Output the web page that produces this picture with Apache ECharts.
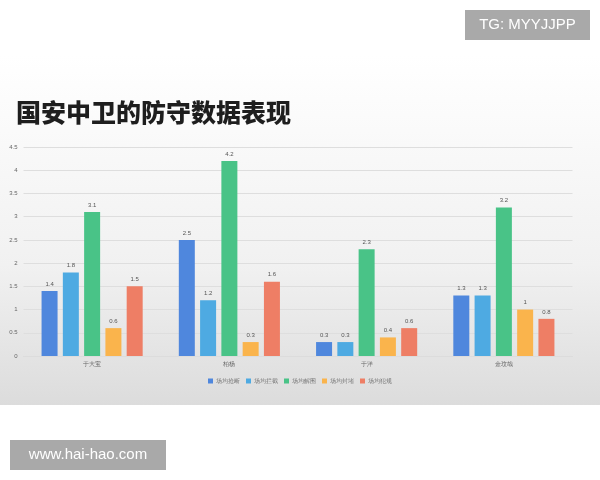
<!DOCTYPE html>
<html><head><meta charset="utf-8">
<script src="https://cdn.jsdelivr.net/npm/echarts@6/dist/echarts.min.js"></script>
<style>html,body{margin:0;padding:0;background:#fff}#c{width:600px;height:480px}</style>
</head><body><div id="c"></div>
<script>
const categories = ['于大宝', '柏杨', '于洋', '金玟哉'];
const seriesNames = ['场均抢断', '场均拦截', '场均解围', '场均封堵', '场均犯规'];
const steals = [1.4, 2.5, 0.3, 1.3];
const intercepts = [1.8, 1.2, 0.3, 1.3];
const clearances = [3.1, 4.2, 2.3, 3.2];
const blocks = [0.6, 0.3, 0.4, 1];
const fouls = [1.5, 1.6, 0.6, 0.8];
const seriesData = [steals, intercepts, clearances, blocks, fouls];
const colors = ['#4f87dd', '#4eaae2', '#49c387', '#fab44c', '#ee7e65'];

const chart = echarts.init(document.getElementById('c'));
chart.setOption({
  animation: false,
  color: colors,
  graphic: [
    {type: 'rect', z: -10, shape: {x: 0, y: 55, width: 600, height: 350},
     style: {fill: new echarts.graphic.LinearGradient(0, 0, 0, 1, [
       {offset: 0, color: '#ffffff'}, {offset: 0.6, color: '#f1f1f1'}, {offset: 1, color: '#dcdcdc'}])}},
    {type: 'rect', shape: {x: 465, y: 10, width: 125, height: 30}, style: {fill: '#a9a9a9'}},
    {type: 'text', x: 527.5, y: 25, style: {text: 'TG: MYYJJPP', fill: '#fff', align: 'center', verticalAlign: 'middle', font: '15px "Liberation Sans", Arial, sans-serif'}},
    {type: 'rect', shape: {x: 10, y: 440, width: 156, height: 30}, style: {fill: '#a9a9a9'}},
    {type: 'text', x: 88, y: 455, style: {text: 'www.hai-hao.com', fill: '#fff', align: 'center', verticalAlign: 'middle', font: '15px "Liberation Sans", Arial, sans-serif'}}
  ],
  title: {
    text: '国安中卫的防守数据表现', left: 11, top: 95,
    textStyle: {fontSize: 25, fontWeight: 900, color: '#1e1e1e', fontFamily: '"Noto Sans CJK SC", sans-serif'}
  },
  legend: {
    data: seriesNames, top: 373, left: 'center', itemWidth: 5, itemHeight: 5, itemGap: 6, icon: 'rect',
    textStyle: {fontSize: 6, color: '#777', padding: [0, 0, 0, -2]}
  },
  grid: {left: 23.5, right: 27.5, top: 147, bottom: 124},
  xAxis: {
    type: 'category', data: categories,
    axisLine: {show: true, lineStyle: {color: '#dcdcdc'}}, axisTick: {show: false},
    axisLabel: {fontSize: 6, color: '#666', margin: 5}
  },
  yAxis: {
    type: 'value', min: 0, max: 4.5, interval: 0.5,
    axisLine: {show: false}, axisTick: {show: false},
    splitLine: {lineStyle: {color: '#dedede'}},
    axisLabel: {fontSize: 6, color: '#666', margin: 6}
  },
  series: seriesNames.map((n, i) => ({
    name: n, type: 'bar', data: seriesData[i], barWidth: 16, barGap: '33%',
    label: {show: true, position: 'top', fontSize: 6, color: '#555', distance: 4}
  }))
});
</script></body></html>
